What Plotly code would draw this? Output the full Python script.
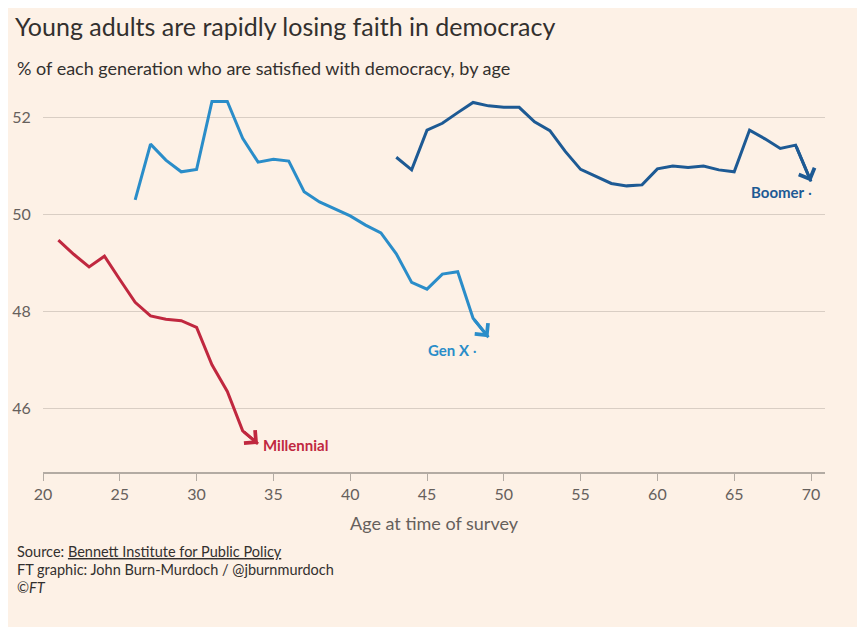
import plotly.graph_objects as go

# ---- data ----
millennial_age = [21, 22, 23, 24, 25, 26, 27, 28, 29, 30, 31, 32, 33, 34]
millennial_val = [49.46, 49.17, 48.91, 49.13, 48.65, 48.18, 47.90, 47.83, 47.80, 47.66,
                  46.89, 46.34, 45.53, 45.26]

genx_age = list(range(26, 50))
genx_val = [50.29, 51.44, 51.11, 50.87, 50.92, 52.32, 52.32, 51.56, 51.07, 51.13,
            51.09, 50.46, 50.25, 50.10, 49.96, 49.77, 49.61, 49.18, 48.59, 48.45,
            48.76, 48.81, 47.85, 47.46]

boomer_age = list(range(43, 71))
boomer_val = [51.17, 50.91, 51.73, 51.87, 52.09, 52.30, 52.23, 52.20, 52.20, 51.90,
              51.72, 51.29, 50.92, 50.78, 50.63, 50.58, 50.60, 50.93, 50.99, 50.96,
              50.99, 50.91, 50.87, 51.73, 51.55, 51.35, 51.42, 50.67]

x_ticks = [20, 25, 30, 35, 40, 45, 50, 55, 60, 65, 70]
y_ticks = [46, 48, 50, 52]

series = [
    ("Millennial", millennial_age, millennial_val, "#c0283f"),
    ("Gen X", genx_age, genx_val, "#2a8dc9"),
    ("Boomer", boomer_age, boomer_val, "#1d5a94"),
]

BG = "#fdf1e6"
FONT = "Lato"
OFF = 8  # page body margin offset

fig = go.Figure()
annotations = []
for name, xs, ys, col in series:
    fig.add_trace(go.Scatter(x=xs, y=ys, mode="lines", name=name,
                             line=dict(color=col, width=3), showlegend=False,
                             hoverinfo="x+y"))
    # arrow head on final segment
    annotations.append(dict(x=xs[-1], y=ys[-1], ax=xs[-2], ay=ys[-2],
                            xref="x", yref="y", axref="x", ayref="y",
                            text="", showarrow=True, arrowhead=4, arrowsize=1.1,
                            arrowwidth=3, arrowcolor=col, standoff=0))

# series labels
annotations += [
    dict(x=34.2, y=45.24, xref="x", yref="y", text="<b>Millennial</b>",
         showarrow=False, xanchor="left", yanchor="middle",
         font=dict(family=FONT, size=15, color="#c0283f")),
    dict(x=48.4, y=47.2, xref="x", yref="y", text="<b>Gen X</b> ·",
         showarrow=False, xanchor="right", yanchor="middle",
         font=dict(family=FONT, size=15, color="#2a8dc9")),
    dict(x=70.2, y=50.45, xref="x", yref="y", text="<b>Boomer</b> ·",
         showarrow=False, xanchor="right", yanchor="middle",
         font=dict(family=FONT, size=15, color="#1d5a94")),
]

# subtitle and footer (paper coords relative to plot area 43..825 x 95..472 on screen)
def px_x(p):
    return (p - 43) / 782.0

def px_y(p):
    return (472 - p) / 377.0

annotations += [
    dict(x=px_x(15), y=px_y(68), xref="paper", yref="paper",
         text="% of each generation who are satisfied with democracy, by age",
         showarrow=False, xanchor="left", yanchor="middle",
         font=dict(family=FONT, size=18, color="#33302e")),
    dict(x=px_x(15), y=px_y(551), xref="paper", yref="paper",
         text="Source: <u>Bennett Institute for Public Policy</u>",
         showarrow=False, xanchor="left", yanchor="middle",
         font=dict(family=FONT, size=14.5, color="#33302e")),
    dict(x=px_x(15), y=px_y(569), xref="paper", yref="paper",
         text="FT graphic: John Burn-Murdoch / @jburnmurdoch",
         showarrow=False, xanchor="left", yanchor="middle",
         font=dict(family=FONT, size=14.5, color="#33302e")),
    dict(x=px_x(15), y=px_y(587), xref="paper", yref="paper",
         text="©<i>FT</i>",
         showarrow=False, xanchor="left", yanchor="middle",
         font=dict(family=FONT, size=14.5, color="#33302e")),
]

fig.update_layout(
    width=865, height=627,
    paper_bgcolor=BG, plot_bgcolor=BG,
    margin=dict(l=43 - OFF, r=865 - (825 - OFF), t=95 - OFF, b=627 - (472 - OFF)),
    title=dict(text="Young adults are rapidly losing faith in democracy",
               x=(15 - OFF) / 865, xanchor="left", xref="container",
               y=1 - (27 - OFF) / 627, yanchor="middle", yref="container",
               font=dict(family=FONT, size=25, color="#33302e")),
    annotations=annotations,
    font=dict(family=FONT, color="#66605c"),
    showlegend=False,
)
fig.update_xaxes(range=[20, 20 + 782 / 15.36], tickvals=x_ticks,
                 showgrid=False, zeroline=False, automargin=False,
                 showline=True, linecolor="#b3aba3", linewidth=2,
                 ticks="outside", ticklen=7, tickcolor="#b3aba3", tickwidth=1,
                 tickfont=dict(family=FONT, size=16, color="#66605c"),
                 title=dict(text="Age at time of survey", standoff=15,
                            font=dict(family=FONT, size=18, color="#66605c")))
fig.update_yaxes(range=[46 - 64 / 48.5, 52 + 22 / 48.5], tickvals=y_ticks,
                 showgrid=True, gridcolor="#d9cec4", gridwidth=1,
                 zeroline=False, showline=False, automargin=False,
                 ticks="outside", ticklen=8, tickcolor="rgba(0,0,0,0)",
                 tickfont=dict(family=FONT, size=16, color="#66605c"))

fig.write_html("out.html")
